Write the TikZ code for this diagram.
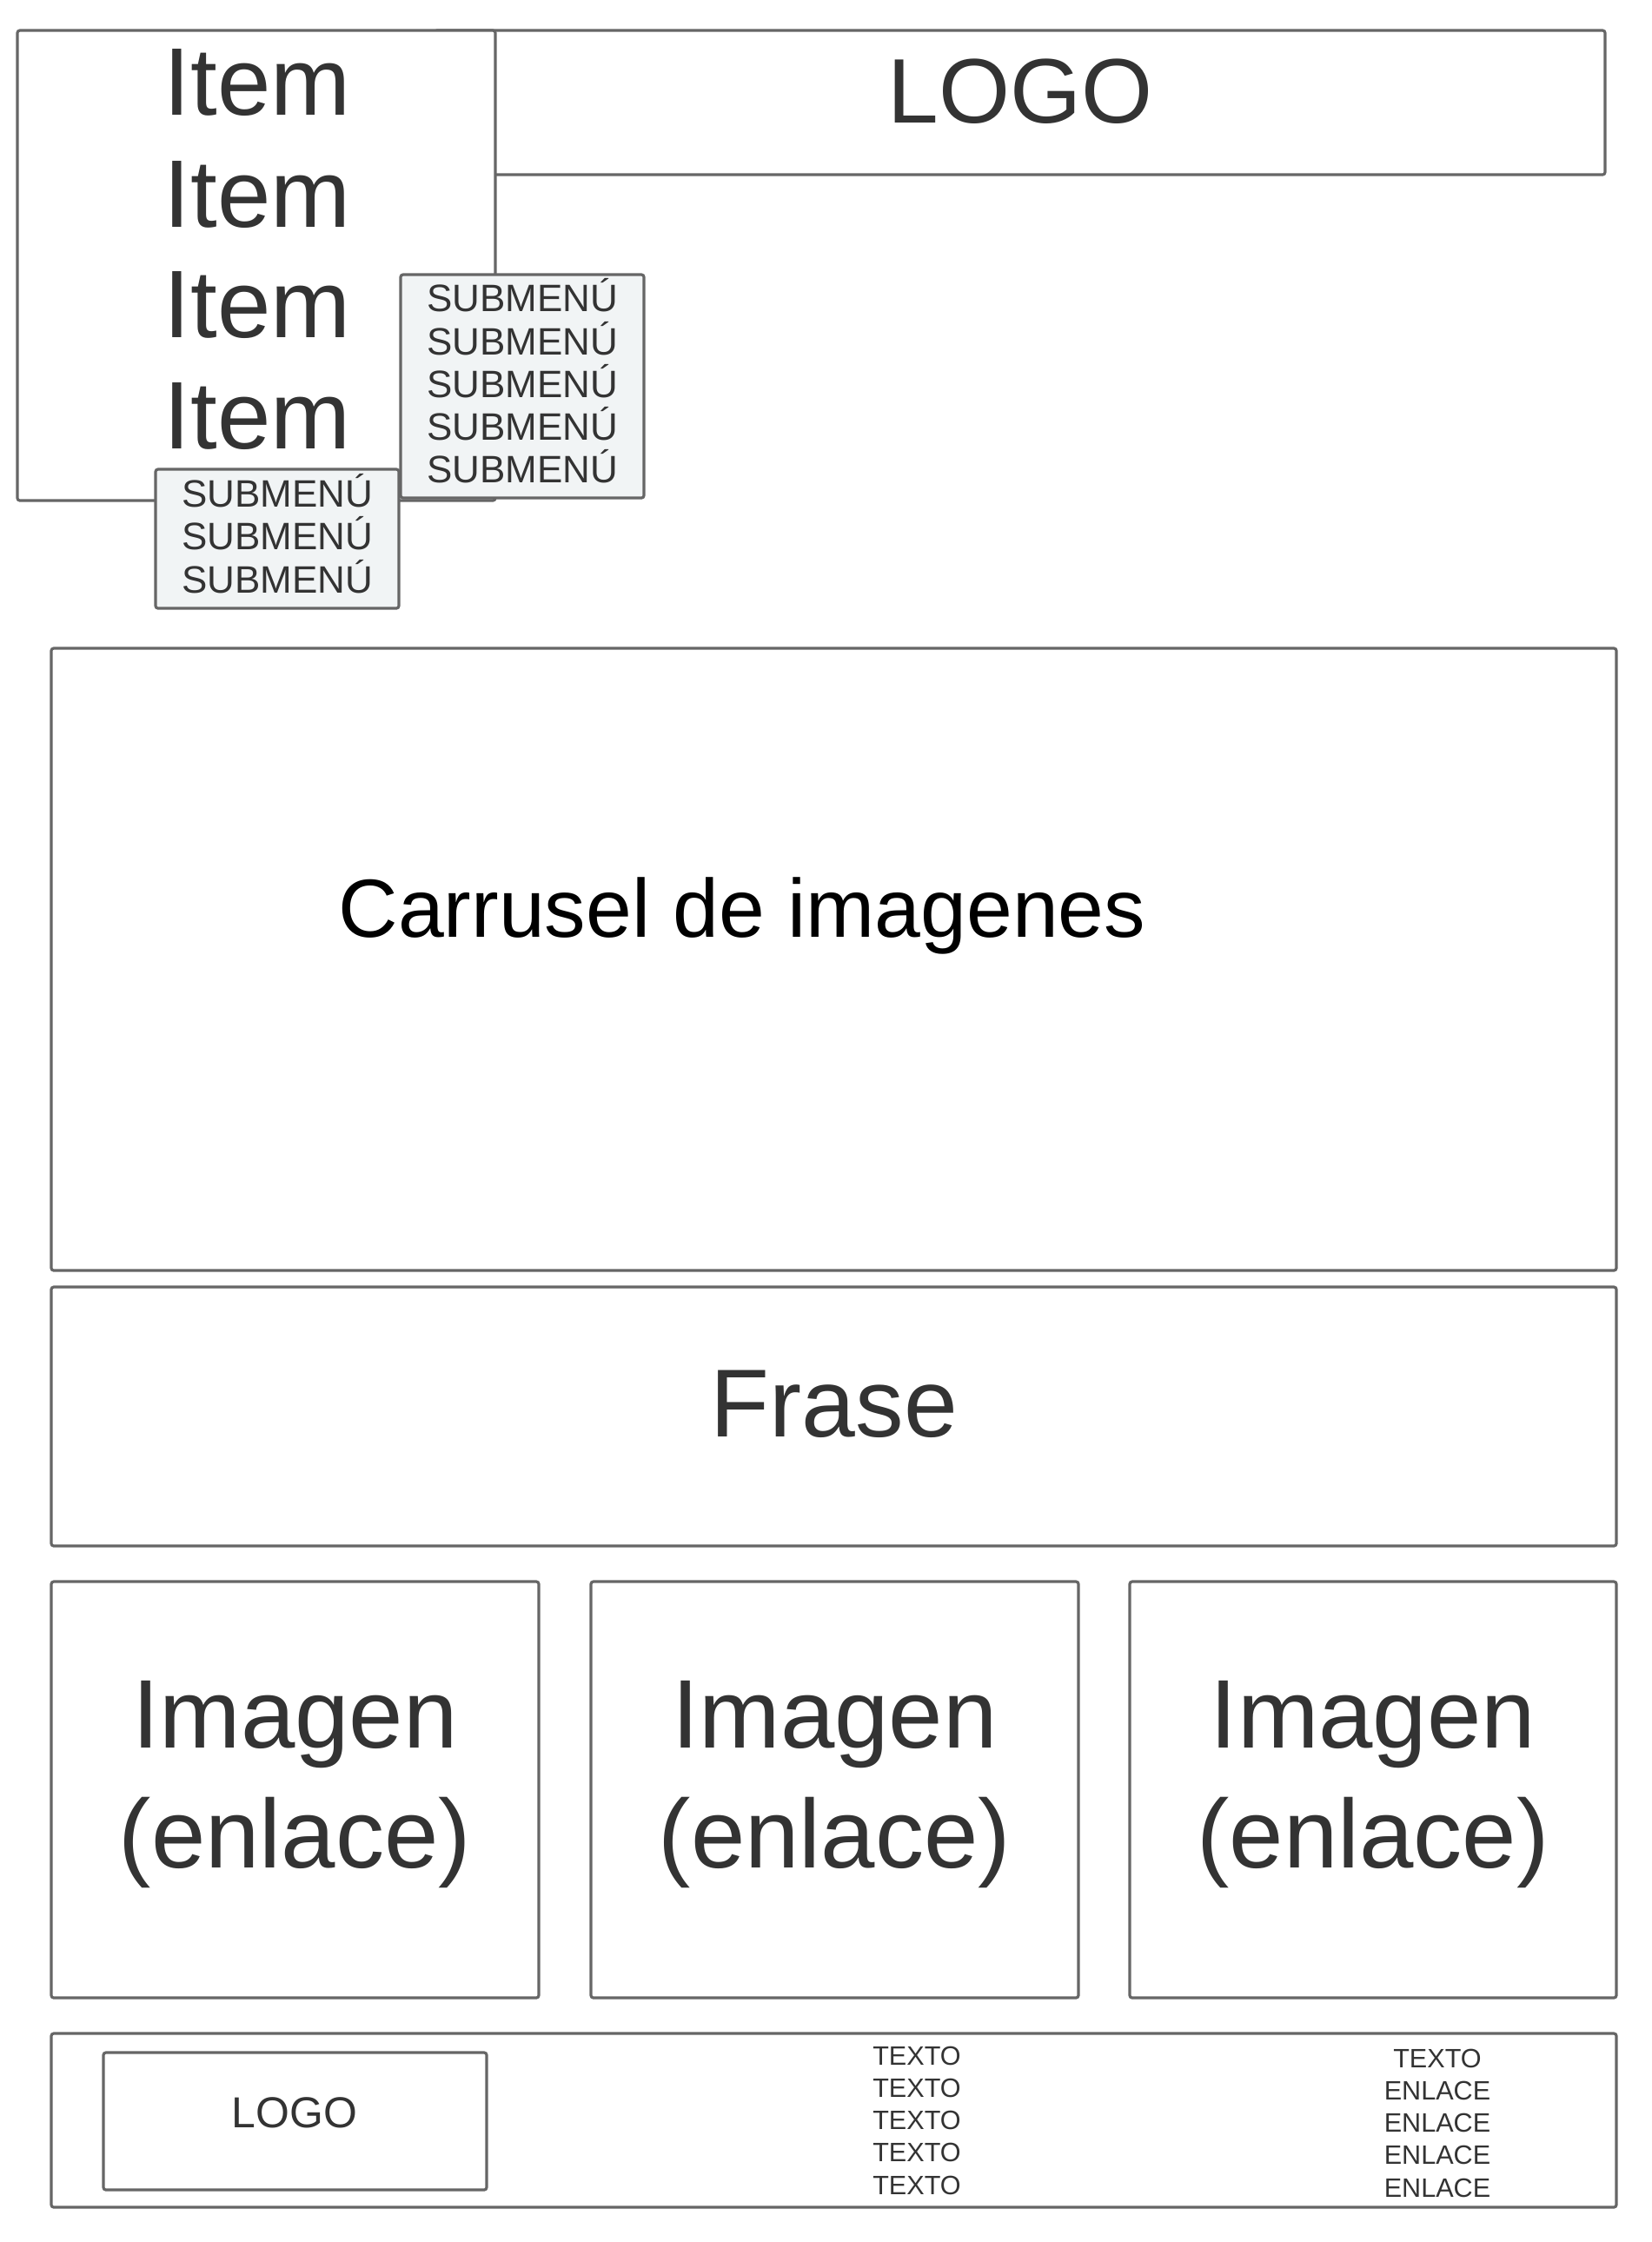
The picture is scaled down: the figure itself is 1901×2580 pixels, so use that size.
\documentclass[tikz,border=0pt]{standalone}
\usepackage{fontspec}
\setmainfont{Liberation Sans}
\usepackage{xcolor}
\definecolor{linegray}{HTML}{666666}
\definecolor{textgray}{HTML}{333333}
\definecolor{subfill}{HTML}{F1F4F5}

\begin{document}
\begin{tikzpicture}[x=0.01cm,y=-0.01cm,
  box/.style={draw=linegray,line width=0.9pt,rounded corners=0.8pt},
  subbox/.style={box,fill=subfill},
  txt/.style={text=textgray,align=center,inner sep=0pt},
  itemtxt/.style={txt,font=\fontsize{31.4}{36}\selectfont},
  subtxt/.style={txt,yshift=1.7pt,font=\fontsize{12.5}{14}\selectfont},
  imgtxt/.style={txt,yshift=1.7pt,font=\fontsize{31.9}{39}\selectfont},
  foottxt/.style={txt,font=\fontsize{8.7}{10.6}\selectfont}]
  \useasboundingbox (0,0) rectangle (1901,2580);
  % cabecera
  \draw[box] (500,35) rectangle (1847,201);
  \node[txt,font=\fontsize{30}{36}\selectfont] (logo) at (1174,105) {LOGO};
  \draw[box,fill=white] (20,35) rectangle (570,576);
  \node[itemtxt] (item1) at (296,95) {Item};
  \node[itemtxt] (item2) at (296,224) {Item};
  \node[itemtxt] (item3) at (296,351) {Item};
  \node[itemtxt] (item4) at (296,479) {Item};
  \draw[subbox] (461,316) rectangle (741,573) node[midway,subtxt] (subright) {SUBMENÚ\\SUBMENÚ\\SUBMENÚ\\SUBMENÚ\\SUBMENÚ};
  \draw[subbox] (179,540) rectangle (459,700) node[midway,subtxt] (subbottom) {SUBMENÚ\\SUBMENÚ\\SUBMENÚ};
  % carrusel y frase
  \draw[box] (59,746) rectangle (1860,1462);
  \node[txt,text=black,font=\fontsize{27}{32}\selectfont] (carrusel) at (854,1054) {Carrusel de imagenes};
  \draw[box] (59,1481) rectangle (1860,1779);
  \node[txt,font=\fontsize{31.6}{38}\selectfont] (frase) at (960,1616) {Frase};
  % imagenes
  \draw[box] (59,1820) rectangle (620,2299) node[midway,imgtxt] (img1) {Imagen\\(enlace)};
  \draw[box] (680,1820) rectangle (1241,2299) node[midway,imgtxt] (img2) {Imagen\\(enlace)};
  \draw[box] (1300,1820) rectangle (1860,2299) node[midway,imgtxt] (img3) {Imagen\\(enlace)};
  % pie
  \draw[box] (59,2340) rectangle (1860,2540);
  \draw[box] (119,2362) rectangle (560,2520);
  \node[txt,font=\fontsize{14.2}{17}\selectfont] (footlogo) at (339,2431) {LOGO};
  \node[foottxt] (textos) at (1055,2440) {TEXTO\\TEXTO\\TEXTO\\TEXTO\\TEXTO};
  \node[foottxt] (enlaces) at (1654,2443) {TEXTO\\ENLACE\\ENLACE\\ENLACE\\ENLACE};
\end{tikzpicture}
\end{document}
